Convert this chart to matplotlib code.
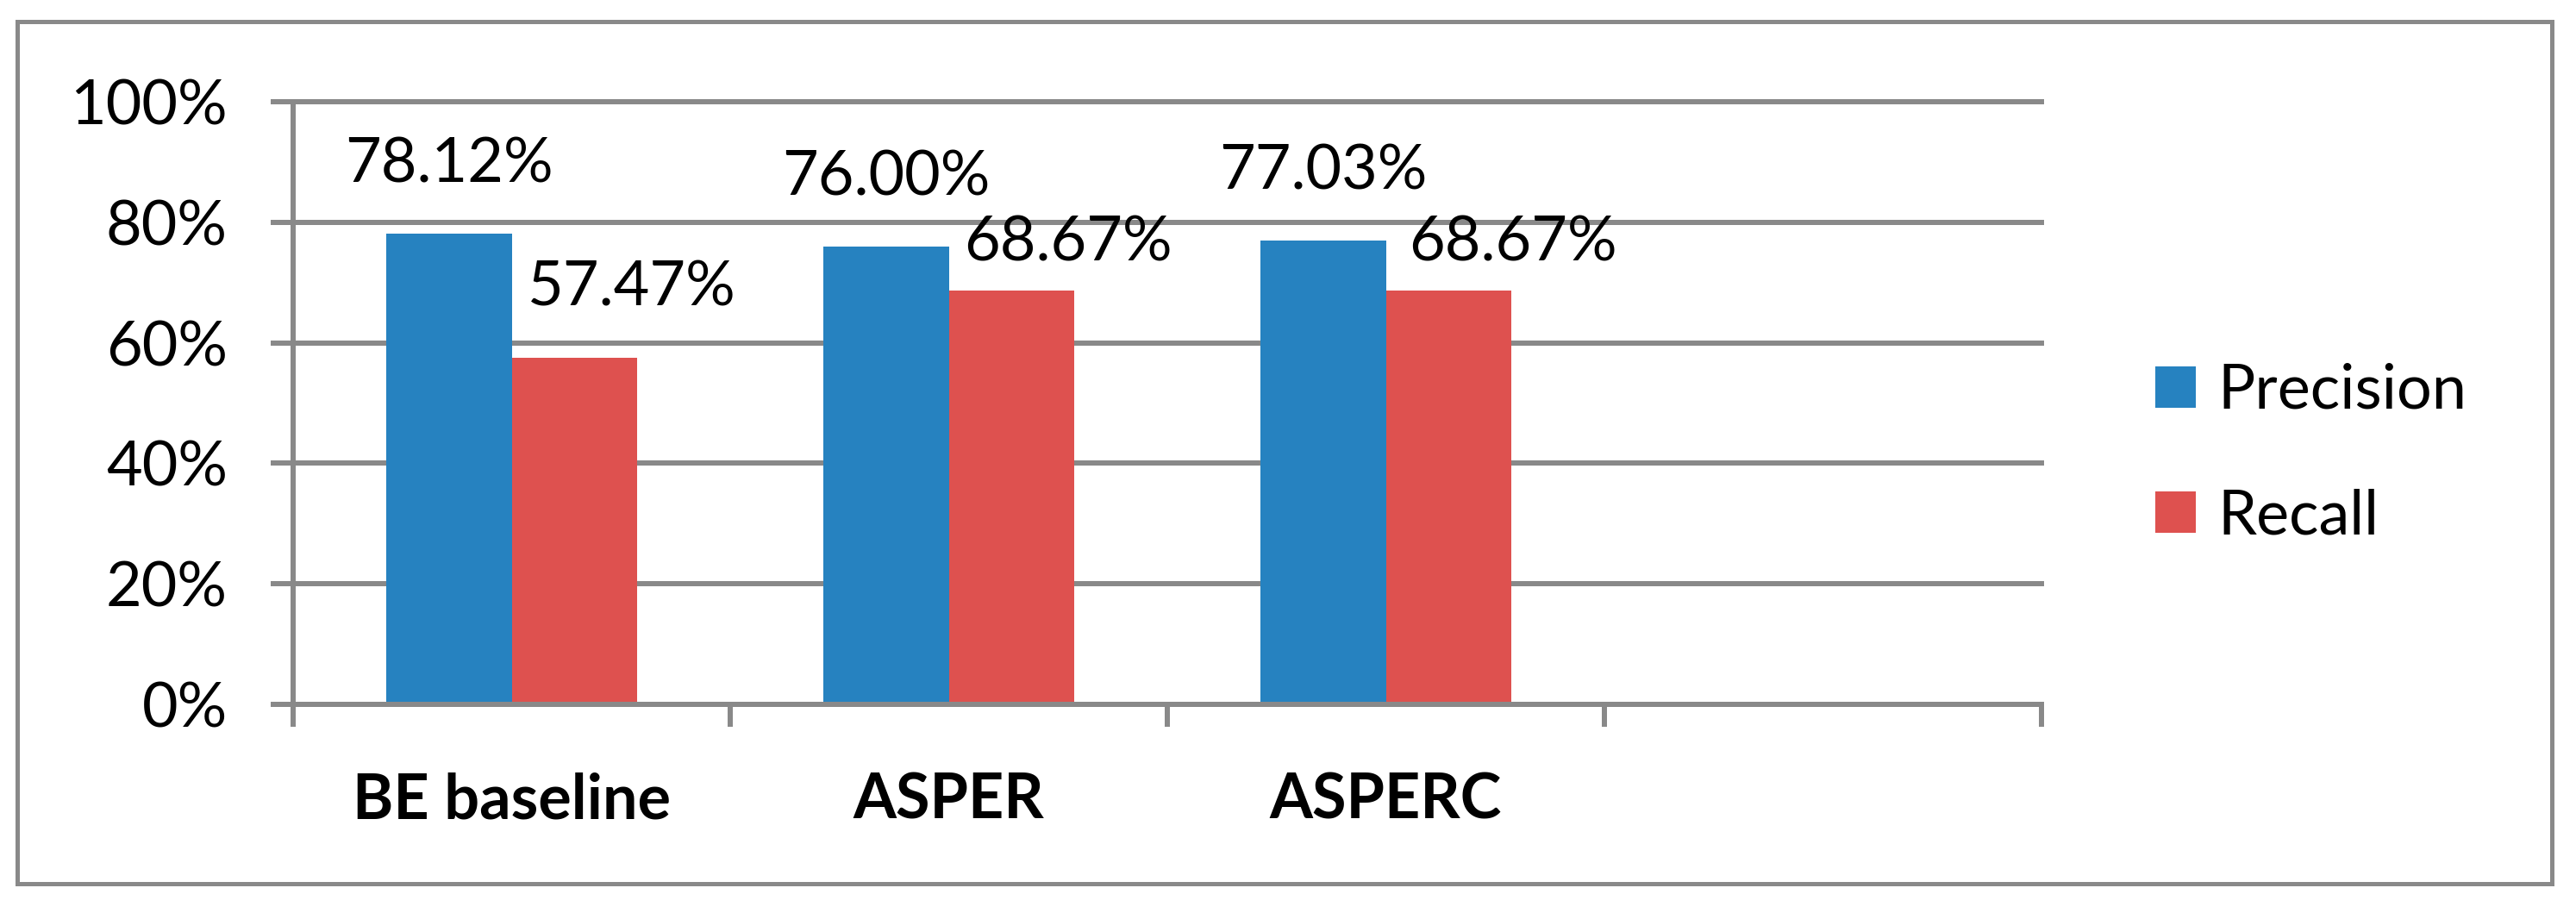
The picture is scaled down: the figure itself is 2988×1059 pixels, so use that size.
import matplotlib
matplotlib.use("Agg")
import matplotlib.pyplot as plt
from matplotlib.patches import Rectangle, Patch
from matplotlib.transforms import blended_transform_factory
import numpy as np

categories = ["BE baseline", "ASPER", "ASPERC", ""]
precision = [0.7812, 0.7600, 0.7703]
recall = [0.5747, 0.6867, 0.6867]
precision_labels = ["78.12%", "76.00%", "77.03%"]
recall_labels = ["57.47%", "68.67%", "68.67%"]
yticks = [0, 0.2, 0.4, 0.6, 0.8, 1.0]
ytick_labels = ["0%", "20%", "40%", "60%", "80%", "100%"]

BLUE = "#2682C0"
RED = "#DE514F"
GRAY = "#898989"
FONT = "Lato"
DPI = 100
W, H = 2988, 1059
PX = 72 / DPI  # points per pixel

plt.rcParams["font.family"] = [FONT, "DejaVu Sans"]

fig = plt.figure(figsize=(W / DPI, H / DPI), dpi=DPI)
fig.patch.set_facecolor("white")

# outer frame
fig.patches.append(Rectangle((20 / W, 1 - 1025 / H), 2940 / W, 1000 / H,
                             transform=fig.transFigure, fill=False,
                             edgecolor=GRAY, linewidth=5 * PX))

ax = fig.add_axes([340 / W, 1 - 817 / H, 2028 / W, 699 / H])
ax.set_xlim(-0.5, len(categories) - 0.5)
ax.set_ylim(0, 1.0)

bw = 0.286
x = np.arange(len(precision))
ax.bar(x - bw / 2, precision, bw, color=BLUE, label="Precision", zorder=3)
ax.bar(x + bw / 2, recall, bw, color=RED, label="Recall", zorder=3)

# gridlines
for yv in yticks:
    ax.axhline(yv, color=GRAY, linewidth=6 * PX, zorder=1, clip_on=False)

for s in ["top", "right"]:
    ax.spines[s].set_visible(False)
for s in ["left", "bottom"]:
    ax.spines[s].set_color(GRAY)
    ax.spines[s].set_linewidth(6 * PX)
    ax.spines[s].set_zorder(4)

fs = 72 * PX
ax.set_yticks(yticks)
ax.set_yticklabels(ytick_labels, fontsize=fs)
ax.set_xticks(np.arange(len(categories) + 1) - 0.5)
ax.set_xticklabels([])
ax.tick_params(axis="both", length=26 * PX, width=6 * PX, color=GRAY, direction="out")
ax.tick_params(axis="y", pad=50 * PX)

# category labels
tr = blended_transform_factory(ax.transData, ax.transAxes)
for i, c in enumerate(categories):
    ax.text(i, -132 / 699, c, transform=tr, ha="center", va="baseline",
            fontsize=fs, fontweight="bold")

# data labels
p_off = [(0, 59), (0, 59), (0, 59)]
r_off = [(67, 61), (66, 34), (75, 34)]
for i in range(len(precision)):
    ax.annotate(precision_labels[i], (x[i] - bw / 2, precision[i]),
                xytext=(p_off[i][0] * PX, p_off[i][1] * PX), textcoords="offset points",
                ha="center", va="baseline", fontsize=fs, zorder=5)
    ax.annotate(recall_labels[i], (x[i] + bw / 2, recall[i]),
                xytext=(r_off[i][0] * PX, r_off[i][1] * PX), textcoords="offset points",
                ha="center", va="baseline", fontsize=fs, zorder=5)

# legend
handles = [Patch(facecolor=BLUE, edgecolor="none"), Patch(facecolor=RED, edgecolor="none")]
fig.legend(handles, ["Precision", "Recall"], loc="upper left",
           bbox_to_anchor=(2500 / W, 1 - 421 / H), frameon=False,
           fontsize=fs, handlelength=0.65, handleheight=0.65,
           handletextpad=0.36, labelspacing=1.12, borderaxespad=0, borderpad=0)

fig.savefig("out.png", dpi=DPI)
